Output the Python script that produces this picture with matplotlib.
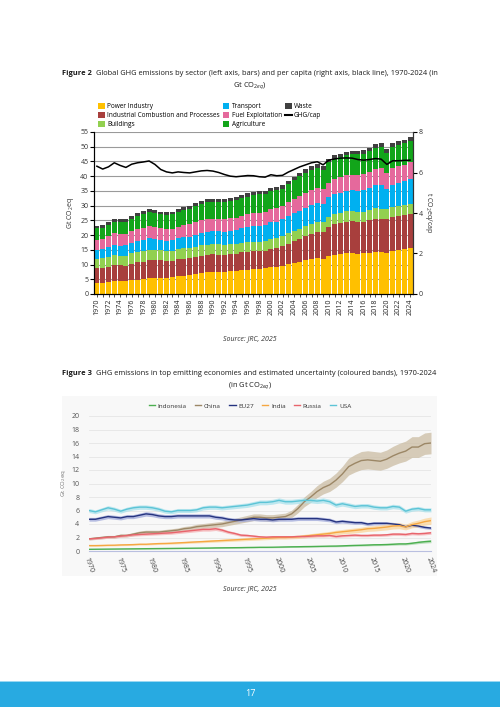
import matplotlib
matplotlib.use("Agg")
import matplotlib.pyplot as plt
from matplotlib.lines import Line2D
from matplotlib.patches import Patch, Rectangle
import numpy as np

plt.rcParams['font.family'] = ['Open Sans', 'DejaVu Sans']
plt.rcParams['mathtext.fontset'] = 'custom'
plt.rcParams['mathtext.rm'] = 'Open Sans'
plt.rcParams['mathtext.it'] = 'Open Sans:italic'

YEARS = list(range(1970, 2025))

# ---- Figure 2: global GHG by sector (Gt CO2eq) ----
SECTORS = ["Power Industry", "Industrial Combustion and Processes", "Buildings",
           "Transport", "Fuel Exploitation", "Agriculture", "Waste"]
POWER = [3.6, 3.8, 4.0, 4.3, 4.3, 4.4, 4.7, 4.9, 5.1, 5.4,
         5.6, 5.6, 5.6, 5.7, 6.0, 6.2, 6.4, 6.7, 7.0, 7.3,
         7.6, 7.6, 7.6, 7.7, 7.8, 8.0, 8.2, 8.4, 8.5, 8.7,
         9.1, 9.3, 9.6, 10.1, 10.5, 10.9, 11.4, 12.0, 12.2, 12.0,
         12.8, 13.3, 13.5, 13.8, 13.9, 13.7, 13.8, 14.0, 14.4, 14.4,
         13.8, 14.6, 14.9, 15.3, 15.6]
INDUSTRY = [5.1, 5.0, 5.3, 5.5, 5.4, 5.2, 5.6, 5.8, 5.9, 6.1,
            6.0, 5.8, 5.6, 5.6, 5.8, 5.8, 5.8, 5.9, 6.0, 6.0,
            5.9, 5.8, 5.7, 5.8, 5.9, 6.1, 6.1, 6.1, 6.0, 6.0,
            6.2, 6.3, 6.6, 7.0, 7.5, 7.8, 8.2, 8.5, 8.7, 8.9,
            9.8, 10.3, 10.5, 10.8, 10.9, 10.8, 10.8, 11.0, 11.2, 11.2,
            11.5, 11.4, 11.5, 11.5, 11.6]
BUILDINGS = [3.2, 3.3, 3.3, 3.4, 3.3, 3.4, 3.5, 3.5, 3.5, 3.6,
             3.5, 3.4, 3.3, 3.3, 3.4, 3.5, 3.4, 3.5, 3.5, 3.5,
             3.4, 3.5, 3.4, 3.4, 3.3, 3.3, 3.4, 3.3, 3.3, 3.3,
             3.4, 3.4, 3.4, 3.5, 3.5, 3.5, 3.4, 3.4, 3.5, 3.5,
             3.6, 3.4, 3.4, 3.5, 3.3, 3.3, 3.3, 3.4, 3.5, 3.4,
             3.4, 3.5, 3.4, 3.4, 3.4]
TRANSPORT = [3.1, 3.2, 3.3, 3.5, 3.4, 3.5, 3.6, 3.7, 3.8, 3.8,
             3.7, 3.7, 3.6, 3.7, 3.8, 3.8, 3.9, 4.0, 4.2, 4.3,
             4.4, 4.4, 4.5, 4.6, 4.7, 4.9, 5.0, 5.2, 5.3, 5.4,
             5.6, 5.6, 5.7, 5.8, 6.0, 6.1, 6.2, 6.4, 6.4, 6.3,
             6.6, 6.8, 6.9, 7.0, 7.1, 7.3, 7.5, 7.6, 7.8, 7.9,
             6.8, 7.6, 7.9, 8.1, 8.3]
FUEL_EXPL = [3.4, 3.5, 3.7, 3.9, 3.9, 3.9, 4.0, 4.1, 4.1, 4.2,
             4.0, 3.9, 3.8, 3.8, 3.9, 4.0, 4.1, 4.2, 4.3, 4.3,
             4.2, 4.2, 4.2, 4.2, 4.2, 4.3, 4.4, 4.4, 4.4, 4.4,
             4.6, 4.6, 4.6, 4.8, 4.9, 5.0, 5.0, 5.0, 5.1, 4.9,
             5.0, 5.2, 5.3, 5.3, 5.3, 5.4, 5.4, 5.5, 5.7, 5.9,
             5.6, 5.6, 5.6, 5.6, 5.9]
AGRICULTURE = [3.9, 3.7, 3.8, 4.0, 4.3, 4.2, 4.2, 4.5, 4.7, 4.7,
               4.8, 4.6, 4.9, 4.9, 4.9, 5.1, 5.4, 5.5, 5.6, 5.7,
               5.8, 5.8, 5.9, 5.9, 6.1, 6.0, 6.0, 6.2, 6.3, 6.2,
               6.0, 6.0, 5.9, 6.0, 6.3, 6.6, 6.9, 6.9, 6.9, 6.5,
               6.9, 6.9, 6.9, 6.7, 6.9, 7.0, 6.8, 6.9, 7.1, 7.1,
               6.9, 7.3, 7.3, 7.2, 7.2]
WASTE = [0.9, 0.9, 0.9, 0.9, 0.9, 0.9, 0.9, 0.9, 1.0, 1.0,
         1.0, 1.0, 1.0, 1.0, 1.0, 1.0, 1.0, 1.0, 1.1, 1.1,
         1.1, 1.1, 1.1, 1.1, 1.1, 1.1, 1.1, 1.1, 1.1, 1.1,
         1.1, 1.1, 1.1, 1.1, 1.1, 1.2, 1.2, 1.2, 1.2, 1.2,
         1.2, 1.2, 1.2, 1.2, 1.2, 1.2, 1.2, 1.2, 1.2, 1.2,
         1.2, 1.3, 1.3, 1.3, 1.3]
GHG_PER_CAP = [6.31, 6.17, 6.28, 6.48, 6.35, 6.25, 6.41, 6.48, 6.52, 6.57,
               6.40, 6.15, 6.03, 5.98, 6.03, 6.00, 5.98, 6.03, 6.08, 6.10,
               6.07, 6.00, 5.90, 5.82, 5.79, 5.82, 5.85, 5.84, 5.79, 5.77,
               5.89, 5.84, 5.86, 6.02, 6.15, 6.28, 6.38, 6.48, 6.53, 6.38,
               6.61, 6.67, 6.71, 6.72, 6.71, 6.64, 6.61, 6.64, 6.69, 6.66,
               6.40, 6.58, 6.58, 6.60, 6.61]
SECTOR_COLORS = ["#ffc000", "#a83f3d", "#92d050", "#00b0f0",
                 "#e5699c", "#12a51a", "#404040"]

# ---- Figure 3: top emitters (Gt CO2eq) with relative uncertainty ----
COUNTRIES = ["Indonesia", "China", "EU27", "India", "Russia", "USA"]
INDONESIA = [0.25, 0.26, 0.27, 0.28, 0.29, 0.30, 0.31, 0.32, 0.33, 0.34,
             0.35, 0.36, 0.37, 0.38, 0.39, 0.40, 0.41, 0.42, 0.43, 0.44,
             0.46, 0.47, 0.48, 0.49, 0.50, 0.52, 0.53, 0.55, 0.55, 0.56,
             0.58, 0.60, 0.62, 0.63, 0.65, 0.66, 0.68, 0.70, 0.72, 0.73,
             0.76, 0.80, 0.83, 0.85, 0.88, 0.92, 0.93, 0.96, 1.00, 1.05,
             1.05, 1.15, 1.28, 1.38, 1.45]
CHINA = [1.8, 1.9, 2.0, 2.1, 2.1, 2.3, 2.3, 2.5, 2.7, 2.8,
         2.8, 2.8, 2.9, 3.0, 3.1, 3.3, 3.4, 3.6, 3.7, 3.8,
         3.9, 4.0, 4.2, 4.4, 4.6, 4.8, 5.0, 5.0, 4.9, 4.9,
         5.0, 5.1, 5.5, 6.3, 7.3, 8.0, 8.8, 9.4, 9.8, 10.5,
         11.4, 12.5, 13.0, 13.4, 13.5, 13.4, 13.3, 13.6, 14.1, 14.5,
         14.8, 15.4, 15.4, 15.9, 16.0]
EU27 = [4.7, 4.7, 4.9, 5.1, 5.0, 4.9, 5.1, 5.1, 5.3, 5.5,
        5.4, 5.2, 5.1, 5.1, 5.2, 5.2, 5.2, 5.2, 5.2, 5.2,
        5.0, 4.9, 4.7, 4.6, 4.6, 4.7, 4.8, 4.7, 4.7, 4.6,
        4.7, 4.7, 4.7, 4.8, 4.8, 4.8, 4.8, 4.7, 4.6, 4.3,
        4.4, 4.3, 4.2, 4.2, 4.0, 4.1, 4.1, 4.1, 4.0, 3.9,
        3.6, 3.8, 3.7, 3.5, 3.4]
INDIA = [0.80, 0.80, 0.82, 0.85, 0.86, 0.90, 0.92, 0.95, 1.00, 1.00,
         1.05, 1.10, 1.12, 1.15, 1.20, 1.25, 1.30, 1.35, 1.40, 1.45,
         1.50, 1.55, 1.60, 1.65, 1.70, 1.75, 1.80, 1.85, 1.90, 1.95,
         2.00, 2.00, 2.05, 2.10, 2.20, 2.30, 2.40, 2.50, 2.60, 2.75,
         2.85, 2.95, 3.05, 3.15, 3.30, 3.35, 3.45, 3.55, 3.70, 3.75,
         3.55, 3.90, 4.10, 4.35, 4.50]
RUSSIA = [1.80, 1.85, 1.95, 2.05, 2.10, 2.20, 2.30, 2.40, 2.45, 2.50,
          2.55, 2.60, 2.65, 2.70, 2.80, 2.90, 3.00, 3.10, 3.20, 3.20,
          3.30, 3.10, 2.80, 2.60, 2.35, 2.30, 2.20, 2.10, 2.05, 2.10,
          2.10, 2.10, 2.10, 2.15, 2.15, 2.20, 2.25, 2.25, 2.30, 2.15,
          2.25, 2.30, 2.35, 2.30, 2.30, 2.35, 2.35, 2.40, 2.50, 2.50,
          2.45, 2.60, 2.55, 2.60, 2.70]
USA = [6.0, 5.8, 6.1, 6.4, 6.2, 5.9, 6.2, 6.4, 6.5, 6.5,
       6.4, 6.2, 5.9, 5.8, 6.0, 6.0, 6.0, 6.1, 6.4, 6.5,
       6.5, 6.4, 6.5, 6.6, 6.7, 6.8, 7.0, 7.2, 7.2, 7.3,
       7.5, 7.3, 7.3, 7.4, 7.5, 7.5, 7.4, 7.5, 7.3, 6.8,
       7.0, 6.8, 6.6, 6.7, 6.7, 6.5, 6.4, 6.4, 6.6, 6.5,
       5.9, 6.2, 6.3, 6.1, 6.1]
REL_UNCERTAINTY = [0.15, 0.10, 0.06, 0.12, 0.08, 0.05]
LINE_COLORS = ["#4caf50", "#9c8766", "#25337f", "#f5a742", "#e8646c", "#5cc4d6"]
BAND_COLORS = ["#a5d6a7", "#cbbda3", "#9fa8da", "#fcd49a", "#f4b0b3", "#a9e2ec"]

W, H = 500, 707
fig = plt.figure(figsize=(W / 100, H / 100), dpi=100)
fig.patch.set_facecolor("white")


def fx(px):
    return px / W


def fy(py):
    return 1 - py / H


def title_line(y_px, bold, rest, x0_px, size=5.4):
    r = fig.canvas.get_renderer()
    t1 = fig.text(fx(x0_px), fy(y_px), bold, fontsize=size, fontweight="bold",
                  ha="left", va="baseline", color="#1a1a1a")
    bb = t1.get_window_extent(r)
    fig.text(bb.x1 / W + fx(4), fy(y_px), rest, fontsize=size, ha="left",
             va="baseline", color="#1a1a1a")


# titles
title_line(75, "Figure 2", "Global GHG emissions by sector (left axis, bars) and per capita "
           "(right axis, black line), 1970-2024 (in", 62)
fig.text(0.5, fy(87), r"Gt CO$_{2eq}$)", fontsize=5.4, ha="center", va="baseline", color="#1a1a1a")
title_line(375, "Figure 3", "GHG emissions in top emitting economies and estimated uncertainty "
           "(coloured bands), 1970-2024", 62)
fig.text(0.5, fy(387), r"(in Gt CO$_{2eq}$)", fontsize=5.4, ha="center", va="baseline", color="#1a1a1a")

# ---- top chart ----
ax = fig.add_axes([fx(94), fy(294), fx(413) - fx(94), fy(132) - fy(294)])
x = np.arange(len(YEARS))
series = [POWER, INDUSTRY, BUILDINGS, TRANSPORT, FUEL_EXPL, AGRICULTURE, WASTE]
bottom = np.zeros(len(YEARS))
for name, vals, col in zip(SECTORS, series, SECTOR_COLORS):
    ax.bar(x, vals, bottom=bottom, width=0.84, color=col, linewidth=0, label=name, zorder=2)
    bottom += np.array(vals)
ax.set_xlim(-0.5, len(YEARS) - 0.5)
ax.set_ylim(0, 55)
ax.set_yticks(range(0, 56, 5))
ax.grid(axis="y", color="#9a9a9a", linewidth=0.8, zorder=0)
ax.set_axisbelow(True)
ax.set_xticks(x)
ax.set_xticklabels([str(yr) if yr % 2 == 0 else "" for yr in YEARS], rotation=90,
                   fontsize=5.1, color="#222222")
ax.tick_params(axis="x", length=2.5, width=0.6, pad=1, color="#333333")
ax.tick_params(axis="y", labelsize=5, length=3, width=0.8, pad=1, labelcolor="#333333")
for s in ["left", "bottom", "right"]:
    ax.spines[s].set_color("#333333")
    ax.spines[s].set_linewidth(0.8)
ax.spines["top"].set_visible(False)
ax.set_ylabel(r"Gt CO$_2$eq", fontsize=5, labelpad=3, color="#333333")

ax2 = ax.twinx()
ax2.plot(x, GHG_PER_CAP, color="black", linewidth=1.1, zorder=5, label="GHG/cap")
ax2.set_ylim(0, 8)
ax2.set_yticks([0, 2, 4, 6, 8])
ax2.tick_params(axis="y", labelsize=5, length=3, width=0.8, pad=1, labelcolor="#333333")
ax2.spines["top"].set_visible(False)
ax2.spines["right"].set_color("#333333")
ax2.set_ylabel(r"t CO$_2$eq/cap", fontsize=5, rotation=270, labelpad=8, color="#333333")

handles = [Patch(facecolor=c, edgecolor="none") for c in SECTOR_COLORS]
handles.append(Line2D([0], [0], color="black", linewidth=1.5))
labels = SECTORS + ["GHG/cap"]
fig.legend(handles, labels, loc="upper left", bbox_to_anchor=(fx(95), fy(100)), ncol=3,
           frameon=False, fontsize=4.7, handlelength=1.0, handleheight=1.0,
           handletextpad=0.35, columnspacing=0.5, labelspacing=0.25, borderpad=0)

fig.text(0.5, fy(340), "Source: JRC, 2025", fontsize=5, style="italic", ha="center",
         va="baseline", color="#333333")

# ---- bottom chart ----
fig.patches.append(Rectangle((fx(62), fy(576)), fx(437) - fx(62), fy(396) - fy(576),
                             transform=fig.transFigure, facecolor="#f8f8f8",
                             edgecolor="none", zorder=-5))
bx = fig.add_axes([fx(89), fy(551), fx(431) - fx(89), fy(416) - fy(551)])
bx.set_facecolor("none")
for name, vals, u, lc, bc in zip(COUNTRIES, [INDONESIA, CHINA, EU27, INDIA, RUSSIA, USA],
                                 REL_UNCERTAINTY, LINE_COLORS, BAND_COLORS):
    v = np.array(vals)
    bx.fill_between(YEARS, v * (1 - u), v * (1 + u), color=bc, alpha=0.75, linewidth=0, zorder=2)
    bx.plot(YEARS, v, color=lc, linewidth=1.0, label=name, zorder=3)
bx.set_xlim(1970, 2024)
bx.set_ylim(0, 20)
bx.set_yticks(range(0, 21, 2))
bx.grid(axis="y", color="#e6e6e6", linewidth=0.6, zorder=0)
bx.set_axisbelow(True)
for s in ["left", "top", "right"]:
    bx.spines[s].set_visible(False)
bx.spines["bottom"].set_color("#b9bfe0")
bx.spines["bottom"].set_linewidth(0.8)
xt = [1970, 1975, 1980, 1985, 1990, 1995, 2000, 2005, 2010, 2015, 2020, 2024]
bx.set_xticks(xt)
bx.set_xticklabels([str(t) for t in xt], rotation=-70, ha="left", va="top",
                   rotation_mode="anchor", fontsize=5, color="#444444")
bx.tick_params(axis="x", length=0, pad=4)
bx.tick_params(axis="y", length=0, labelsize=5, pad=7, labelcolor="#555555")
bx.set_ylabel(r"Gt CO$_2$eq", fontsize=4.3, color="#777777", labelpad=2)

lh = [Line2D([0], [0], color=c, linewidth=1.0) for c in LINE_COLORS]
fig.legend(lh, COUNTRIES, loc="center", bbox_to_anchor=(0.5, fy(406)), ncol=6,
           frameon=False, fontsize=4.6, handlelength=1.0, handletextpad=0.4,
           columnspacing=1.3, borderpad=0, labelcolor="#333333")

fig.text(0.5, fy(590), "Source: JRC, 2025", fontsize=5, style="italic", ha="center",
         va="baseline", color="#333333")

# ---- footer band ----
fig.patches.append(Rectangle((0, 0), 1, fy(681), transform=fig.transFigure,
                             facecolor="#28aae1", edgecolor="none", zorder=-5))
fig.patches.append(Rectangle((0, fy(682)), 1, fy(681) - fy(682), transform=fig.transFigure,
                             facecolor="#9ad8f2", edgecolor="none", zorder=-5))
fig.text(0.5, fy(694), "17", fontsize=6.5, color="white", ha="center", va="center")

fig.savefig("out.png", dpi=100)
